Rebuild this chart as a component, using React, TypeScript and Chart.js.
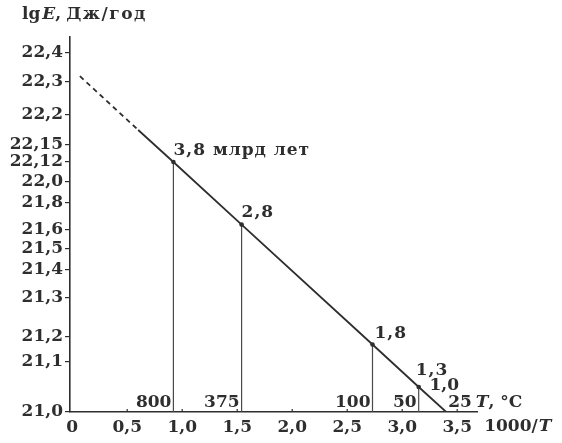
import React, { useEffect, useRef } from 'react';
import { Chart, registerables, LinearScale } from 'chart.js';

// ---------- data ----------
const Y_TICKS = [21.0, 21.1, 21.2, 21.3, 21.4, 21.5, 21.6, 21.8, 22.0, 22.12, 22.15, 22.2, 22.3, 22.4];
const Y_TICK_LABELS = ['21,0', '21,1', '21,2', '21,3', '21,4', '21,5', '21,6', '21,8', '22,0', '22,12', '22,15', '22,2', '22,3', '22,4'];
// where each tick sits along the printed (non-uniform) axis: 0 = bottom, 1 = top
const Y_TICK_FRACTIONS = [0, 0.1333, 0.2, 0.304, 0.3787, 0.4347, 0.4853, 0.5573, 0.6133, 0.6667, 0.712, 0.792, 0.88, 0.9573];
const Y_MIN = 21.0;
const Y_MAX = 22.46;

const X_TICKS = [0, 0.5, 1.0, 1.5, 2.0, 2.5, 3.0, 3.5];
const X_TICK_LABELS = ['0', '0,5', '1,0', '1,5', '2,0', '2,5', '3,0', '3,5'];
const X_MIN = -0.02;
const X_MAX = 3.68;

// trend line: 1000/T versus lg E
const TREND_X = [0.07, 0.6, 0.92, 1.54, 2.73, 3.15, 3.4];
const TREND_LGE = [22.32, 22.175, 22.12, 21.64, 21.17, 21.05, 21.0];
const DASHED_SEGMENTS = 1; // first segment(s) are extrapolated (dashed)
const MARKED = [false, false, true, true, true, true, false];
const AGE_LABELS = ['', '', '3,8 млрд лет', '2,8', '1,8', '1,3', '1,0'];
const TEMP_LABELS = ['', '', '800', '375', '100', '50', '25'];

// ---------- style ----------
const INK = '#2e2e2e';
const FAMILY = 'DejaVu Serif';
const SIZE = 17;
const FONT = `bold ${SIZE}px "${FAMILY}"`;
const FONT_IT = `italic bold ${SIZE}px "${FAMILY}"`;
// label offsets (dx, dy, align) per trend point
const AGE_LABEL_STYLE: Record<number, [number, number, CanvasTextAlign]> = {
  2: [0, -11, 'left'],
  3: [0, -12, 'left'],
  4: [2, -11, 'left'],
  5: [-3, -16, 'left'],
  6: [-2, -26, 'center'],
};

// ---------- piecewise scale reproducing the printed axis ----------
const PV = [...Y_TICKS, Y_MAX];
const PF = [...Y_TICK_FRACTIONS, 1];
function toFrac(v: number) {
  let i = 0;
  while (i < PV.length - 2 && v > PV[i + 1]) i++;
  return PF[i] + ((v - PV[i]) / (PV[i + 1] - PV[i])) * (PF[i + 1] - PF[i]);
}
function fromFrac(f: number) {
  let i = 0;
  while (i < PF.length - 2 && f > PF[i + 1]) i++;
  return PV[i] + ((f - PF[i]) / (PF[i + 1] - PF[i])) * (PV[i + 1] - PV[i]);
}

class PiecewiseScale extends LinearScale {
  static id = 'piecewise';
  static defaults = (LinearScale as any).defaults;
  buildTicks() {
    return Y_TICKS.map((v) => ({ value: v }));
  }
  getPixelForValue(value: any) {
    if (value === null || value === undefined || isNaN(value)) return NaN;
    return (this as any).getPixelForDecimal(toFrac(+value));
  }
  getValueForPixel(pixel: number) {
    return fromFrac((this as any).getDecimalForPixel(pixel));
  }
}

Chart.register(...registerables, PiecewiseScale as any);

function spaced(ctx: any, text: string, x: number, y: number, spacing: number) {
  ctx.letterSpacing = `${spacing}px`;
  ctx.fillText(text, x, y);
  const w = ctx.measureText(text).width;
  ctx.letterSpacing = '0px';
  return w;
}

const annotations = {
  id: 'annotations',
  afterDatasetsDraw(chart: any) {
    const { ctx } = chart;
    const xs = chart.scales.x;
    const ys = chart.scales.y;
    ctx.save();
    ctx.fillStyle = INK;
    ctx.strokeStyle = INK;
    ctx.textBaseline = 'middle';

    // small tick marks above x axis
    const axisY = ys.getPixelForValue(Y_MIN);
    ctx.lineWidth = 1.2;
    X_TICKS.forEach((v) => {
      if (v === 0) return;
      const px = xs.getPixelForValue(v);
      ctx.beginPath();
      ctx.moveTo(px, axisY);
      ctx.lineTo(px, axisY - 3);
      ctx.stroke();
    });

    // age labels on the trend
    ctx.font = FONT;
    TREND_X.forEach((x, i) => {
      const lbl = AGE_LABELS[i];
      if (!lbl) return;
      const [dx, dy, align] = AGE_LABEL_STYLE[i];
      ctx.textAlign = align;
      spaced(ctx, lbl, xs.getPixelForValue(x) + dx, ys.getPixelForValue(TREND_LGE[i]) + dy, align === 'left' ? 1 : 0);
    });

    // temperature labels above x axis
    const tY = axisY - 9;
    let lastEnd = 0;
    TREND_X.forEach((x, i) => {
      const lbl = TEMP_LABELS[i];
      if (!lbl) return;
      const px = xs.getPixelForValue(x);
      if (i === TREND_X.length - 1) {
        ctx.textAlign = 'left';
        ctx.fillText(lbl, px + 2, tY);
        lastEnd = px + 2 + ctx.measureText(lbl).width;
      } else {
        ctx.textAlign = 'right';
        ctx.fillText(lbl, px - 2, tY);
      }
    });
    ctx.textAlign = 'left';
    ctx.font = FONT_IT;
    ctx.fillText('T', lastEnd + 4, tY);
    const tw = ctx.measureText('T').width;
    ctx.font = FONT;
    ctx.fillText(', °C', lastEnd + 4 + tw, tY);

    // x axis title after last tick label
    const lx = xs.getPixelForValue(3.5) + 27;
    const lyy = axisY + 15;
    ctx.font = FONT;
    ctx.fillText('1000/', lx, lyy);
    const w1 = ctx.measureText('1000/').width;
    ctx.font = FONT_IT;
    ctx.fillText('T', lx + w1 + 1, lyy);

    // y axis title
    let tx = 22;
    const ty = 15;
    ctx.font = FONT;
    ctx.fillText('lg', tx, ty);
    tx += ctx.measureText('lg').width + 2;
    ctx.font = FONT_IT;
    ctx.fillText('E', tx, ty);
    tx += ctx.measureText('E').width;
    ctx.font = FONT;
    tx += spaced(ctx, ',', tx, ty, 0) + 5;
    spaced(ctx, 'Дж/год', tx, ty, 1.5);

    ctx.restore();
  },
};

export default function App() {
  const ref = useRef<HTMLCanvasElement>(null);
  useEffect(() => {
    if (!ref.current) return;
    const trend = TREND_X.map((x, i) => ({ x, y: TREND_LGE[i] }));
    const drops: any[] = [];
    TREND_X.forEach((x, i) => {
      if (!TEMP_LABELS[i]) return;
      drops.push({ x, y: Y_MIN }, { x, y: TREND_LGE[i] }, { x, y: null });
    });
    const font = { family: FAMILY, size: SIZE, weight: 'bold' as const };
    const chart = new Chart(ref.current, {
      type: 'line',
      data: {
        datasets: [
          {
            data: trend,
            borderColor: INK,
            borderWidth: 1.8,
            pointRadius: MARKED.map((m) => (m ? 2.3 : 0)),
            pointBackgroundColor: INK,
            pointBorderWidth: 0,
            tension: 0,
            segment: {
              borderDash: (c: any) => (c.p0DataIndex < DASHED_SEGMENTS ? [5, 4] : undefined),
            },
          } as any,
          {
            data: drops,
            borderColor: '#4a4a4a',
            borderWidth: 1.2,
            pointRadius: 0,
            spanGaps: false,
          },
        ],
      },
      options: {
        animation: false,
        responsive: false,
        layout: { padding: { top: 37, right: 85, left: 0, bottom: 0 } },
        plugins: { legend: { display: false }, tooltip: { enabled: false } },
        scales: {
          x: {
            type: 'linear',
            min: X_MIN,
            max: X_MAX,
            afterBuildTicks: (s: any) => {
              s.ticks = X_TICKS.map((v) => ({ value: v }));
            },
            afterFit: (s: any) => {
              s.height = 31;
            },
            grid: { display: false, drawTicks: false },
            border: { color: INK, width: 1.6 },
            ticks: {
              autoSkip: false,
              maxRotation: 0,
              padding: 5,
              color: INK,
              font,
              callback: (v: any) => X_TICK_LABELS[X_TICKS.indexOf(v)] ?? '',
            },
          },
          y: {
            type: 'piecewise' as any,
            min: Y_MIN,
            max: Y_MAX,
            afterFit: (s: any) => {
              s.width = 70;
            },
            grid: { drawOnChartArea: false, drawTicks: true, tickLength: 5, color: INK, lineWidth: 1.2 },
            border: { color: INK, width: 1.6 },
            ticks: {
              autoSkip: false,
              padding: 2,
              color: INK,
              font,
              callback: (v: any) => Y_TICK_LABELS[Y_TICKS.indexOf(v)] ?? '',
            },
          } as any,
        },
      },
      plugins: [annotations],
    });
    return () => chart.destroy();
  }, []);
  return (
    <div style={{ position: 'fixed', left: 0, top: 0, width: 562, height: 443, background: '#fff' }}>
      <canvas ref={ref} width={562} height={443} />
    </div>
  );
}
